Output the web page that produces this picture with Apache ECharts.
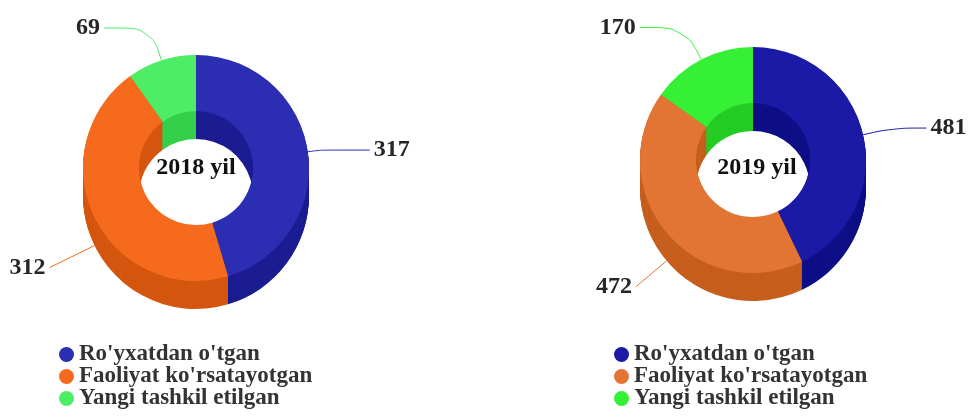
<!DOCTYPE html>
<html><head><meta charset="utf-8">
<script src="https://cdn.jsdelivr.net/npm/echarts@6/dist/echarts.min.js"></script>
<style>html,body{margin:0;padding:0;background:#fff}#c{width:969px;height:419px}</style>
</head><body><div id="c"></div>
<script>
// ---- data ----
const categories = ["Ro'yxatdan o'tgan", "Faoliyat ko'rsatayotgan", "Yangi tashkil etilgan"];
const values2018 = [317, 312, 69];
const values2019 = [481, 472, 170];
const yearLabels = ["2018 yil", "2019 yil"];

// ---- style ----
const topColors2018 = ['#2B2DB2', '#F56A1C', '#4DEE66'];
const sideColors2018 = ['#1C1C92', '#D5560F', '#34D04B'];
const topColors2019 = ['#1A1AA6', '#E27434', '#36F036'];
const sideColors2019 = ['#0E0E86', '#C65E1E', '#24CC24'];
const DEPTH = 28, R_OUT = 113, R_IN = 57;
const FONT = 'Liberation Serif';

function buildDonut(values, cx, cy, topC, sideC, lab) {
  const list = [];
  for (let k = DEPTH; k >= 0; k--) {
    const isTop = k === 0, isBottom = k === DEPTH;
    list.push({
      type: 'pie', silent: true, animation: false, avoidLabelOverlap: false,
      center: [cx, cy + k], radius: [R_IN, R_OUT], startAngle: 90, clockwise: true,
      itemStyle: { borderWidth: 0 },
      emphasis: { disabled: true },
      label: { show: false },
      labelLine: { show: false },
      data: values.map((v, i) => {
        const showLab = (isTop && lab[i].layer === 'top') || (isBottom && lab[i].layer === 'bottom');
        return {
          name: categories[i], value: v,
          itemStyle: { color: isTop ? topC[i] : sideC[i] },
          label: showLab ? { show: true, position: 'outside', formatter: '{c}', fontFamily: FONT, fontWeight: 'bold', fontSize: 24, color: '#262626', distanceToLabelLine: 4 } : { show: false },
          labelLine: showLab ? { show: true, length: lab[i].l1, length2: lab[i].l2, smooth: 0.4, lineStyle: { color: topC[i], width: 1 } } : { show: false }
        };
      })
    });
  }
  return list;
}

const lab2018 = [
  { layer: 'top', l1: 12, l2: 50 },
  { layer: 'bottom', l1: 50, l2: 0 },
  { layer: 'top', l1: 34, l2: 47 }
];
const lab2019 = [
  { layer: 'top', l1: 30, l2: 34 },
  { layer: 'bottom', l1: 40, l2: 0 },
  { layer: 'top', l1: 36, l2: 45 }
];

const legendText = { fontFamily: FONT, fontWeight: 'bold', fontSize: 23, color: '#333' };
const titleText = { fontFamily: FONT, fontWeight: 'bold', fontSize: 24, color: '#111' };

const option = {
  backgroundColor: '#fff',
  animation: false,
  title: [
    { text: yearLabels[0], left: 196, top: 156, textAlign: 'center', padding: 0, textStyle: titleText },
    { text: yearLabels[1], left: 757, top: 156, textAlign: 'center', padding: 0, textStyle: titleText }
  ],
  legend: [
    { orient: 'vertical', left: 59, top: 343, height: 120, padding: 0, icon: 'circle', itemWidth: 15, itemHeight: 15, itemGap: -1, selectedMode: false,
      textStyle: legendText, data: categories.map((n, i) => ({ name: n, itemStyle: { color: topColors2018[i] } })) },
    { orient: 'vertical', left: 614, top: 343, height: 120, padding: 0, icon: 'circle', itemWidth: 15, itemHeight: 15, itemGap: -1, selectedMode: false,
      textStyle: legendText, data: categories.map((n, i) => ({ name: n, itemStyle: { color: topColors2019[i] } })) }
  ],
  series: [].concat(
    buildDonut(values2018, 196, 168, topColors2018, sideColors2018, lab2018),
    buildDonut(values2019, 753, 160, topColors2019, sideColors2019, lab2019)
  )
};
const chart = echarts.init(document.getElementById('c'), null, { renderer: 'canvas' });
chart.setOption(option);
</script>
</body></html>
